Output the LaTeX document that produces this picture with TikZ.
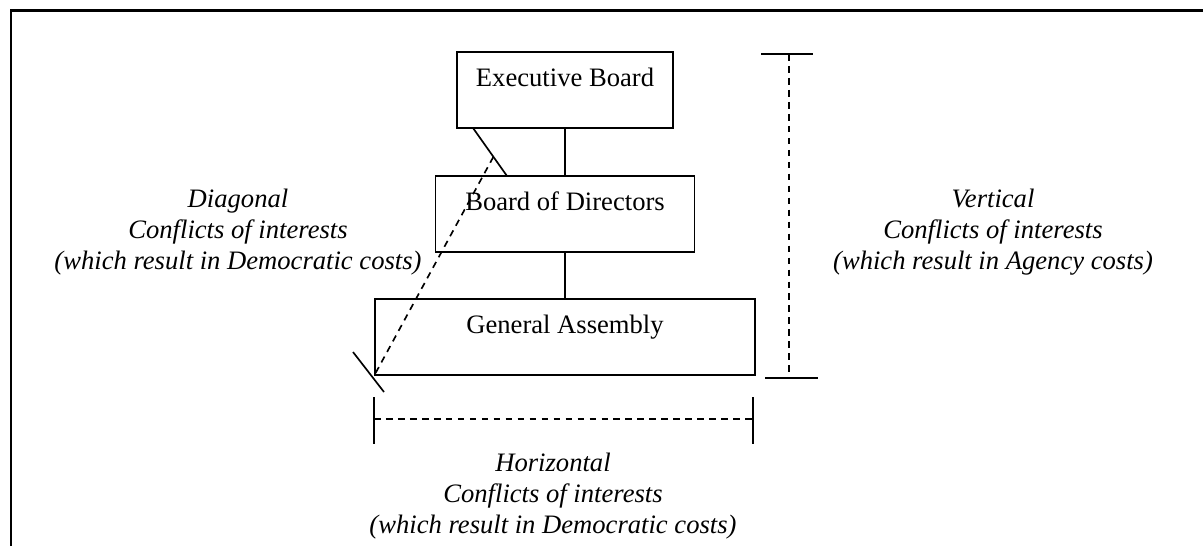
\documentclass[tikz,border=0pt]{standalone}
\usepackage{fontspec}
\setmainfont{Liberation Serif}
\usetikzlibrary{calc}
\tikzset{
  orgbox/.style={draw, line width=0.85pt, inner sep=0pt, text height=15.3pt, text depth=18.9pt},
  costlabel/.style={align=center, font=\fontsize{12}{13.8}\selectfont\itshape, inner sep=0pt, anchor=base},
  dimline/.style={dash pattern=on 3pt off 2.4pt},
}

\begin{document}
\begin{tikzpicture}[x=0.451pt, y=-0.451pt, line width=0.75pt, font=\fontsize{12}{13.8}\selectfont]
  \useasboundingbox (0,0) rectangle (1203,546);
  % frame
  \draw[line width=1pt] (11,546) -- (11,10.5) -- (1203,10.5);
  % the three organs
  \node (exec) at (565,90) [orgbox, minimum width=97.4pt] {Executive Board};
  \node (bod) at (565,214) [orgbox, minimum width=116.8pt] {Board of Directors};
  \node (ga) at (565,337) [orgbox, minimum width=171.4pt] {General Assembly};
  \draw (exec) edge (bod);
  \draw (bod) edge (ga);
  % diagonal
  \coordinate (d1) at (473,128);
  \coordinate (d2) at (507,176);
  \coordinate (d3) at (353,352);
  \coordinate (d4) at (384,392);
  \draw (d1) -- (d2);
  \draw (d3) -- (d4);
  \draw[dimline] ($(d1)!0.6!(d2)$) -- (ga.south west);
  % vertical
  \coordinate (vtop) at (789,54);
  \coordinate (vbot) at (789,378);
  \draw[dimline] (vtop) -- (vbot);
  \draw (vtop) ++(-28,0) -- ++(52,0);
  \draw (vbot) ++(-24,0) -- ++(53,0);
  % horizontal
  \coordinate (hl) at (374,419);
  \coordinate (hr) at (753,419);
  \draw[dimline] (hl) -- (hr);
  \draw (hl) ++(0,-22) -- ++(0,47);
  \draw (hr) ++(0,-22) -- ++(0,47);
  % labels
  \node (diaglabel) at (238,269) [costlabel] {Diagonal\\Conflicts of interests\\(which result in Democratic costs)};
  \node (vertlabel) at (993,269) [costlabel] {Vertical\\Conflicts of interests\\(which result in Agency costs)};
  \node (horlabel) at (553,533) [costlabel] {Horizontal\\Conflicts of interests\\(which result in Democratic costs)};
\end{tikzpicture}
\end{document}
